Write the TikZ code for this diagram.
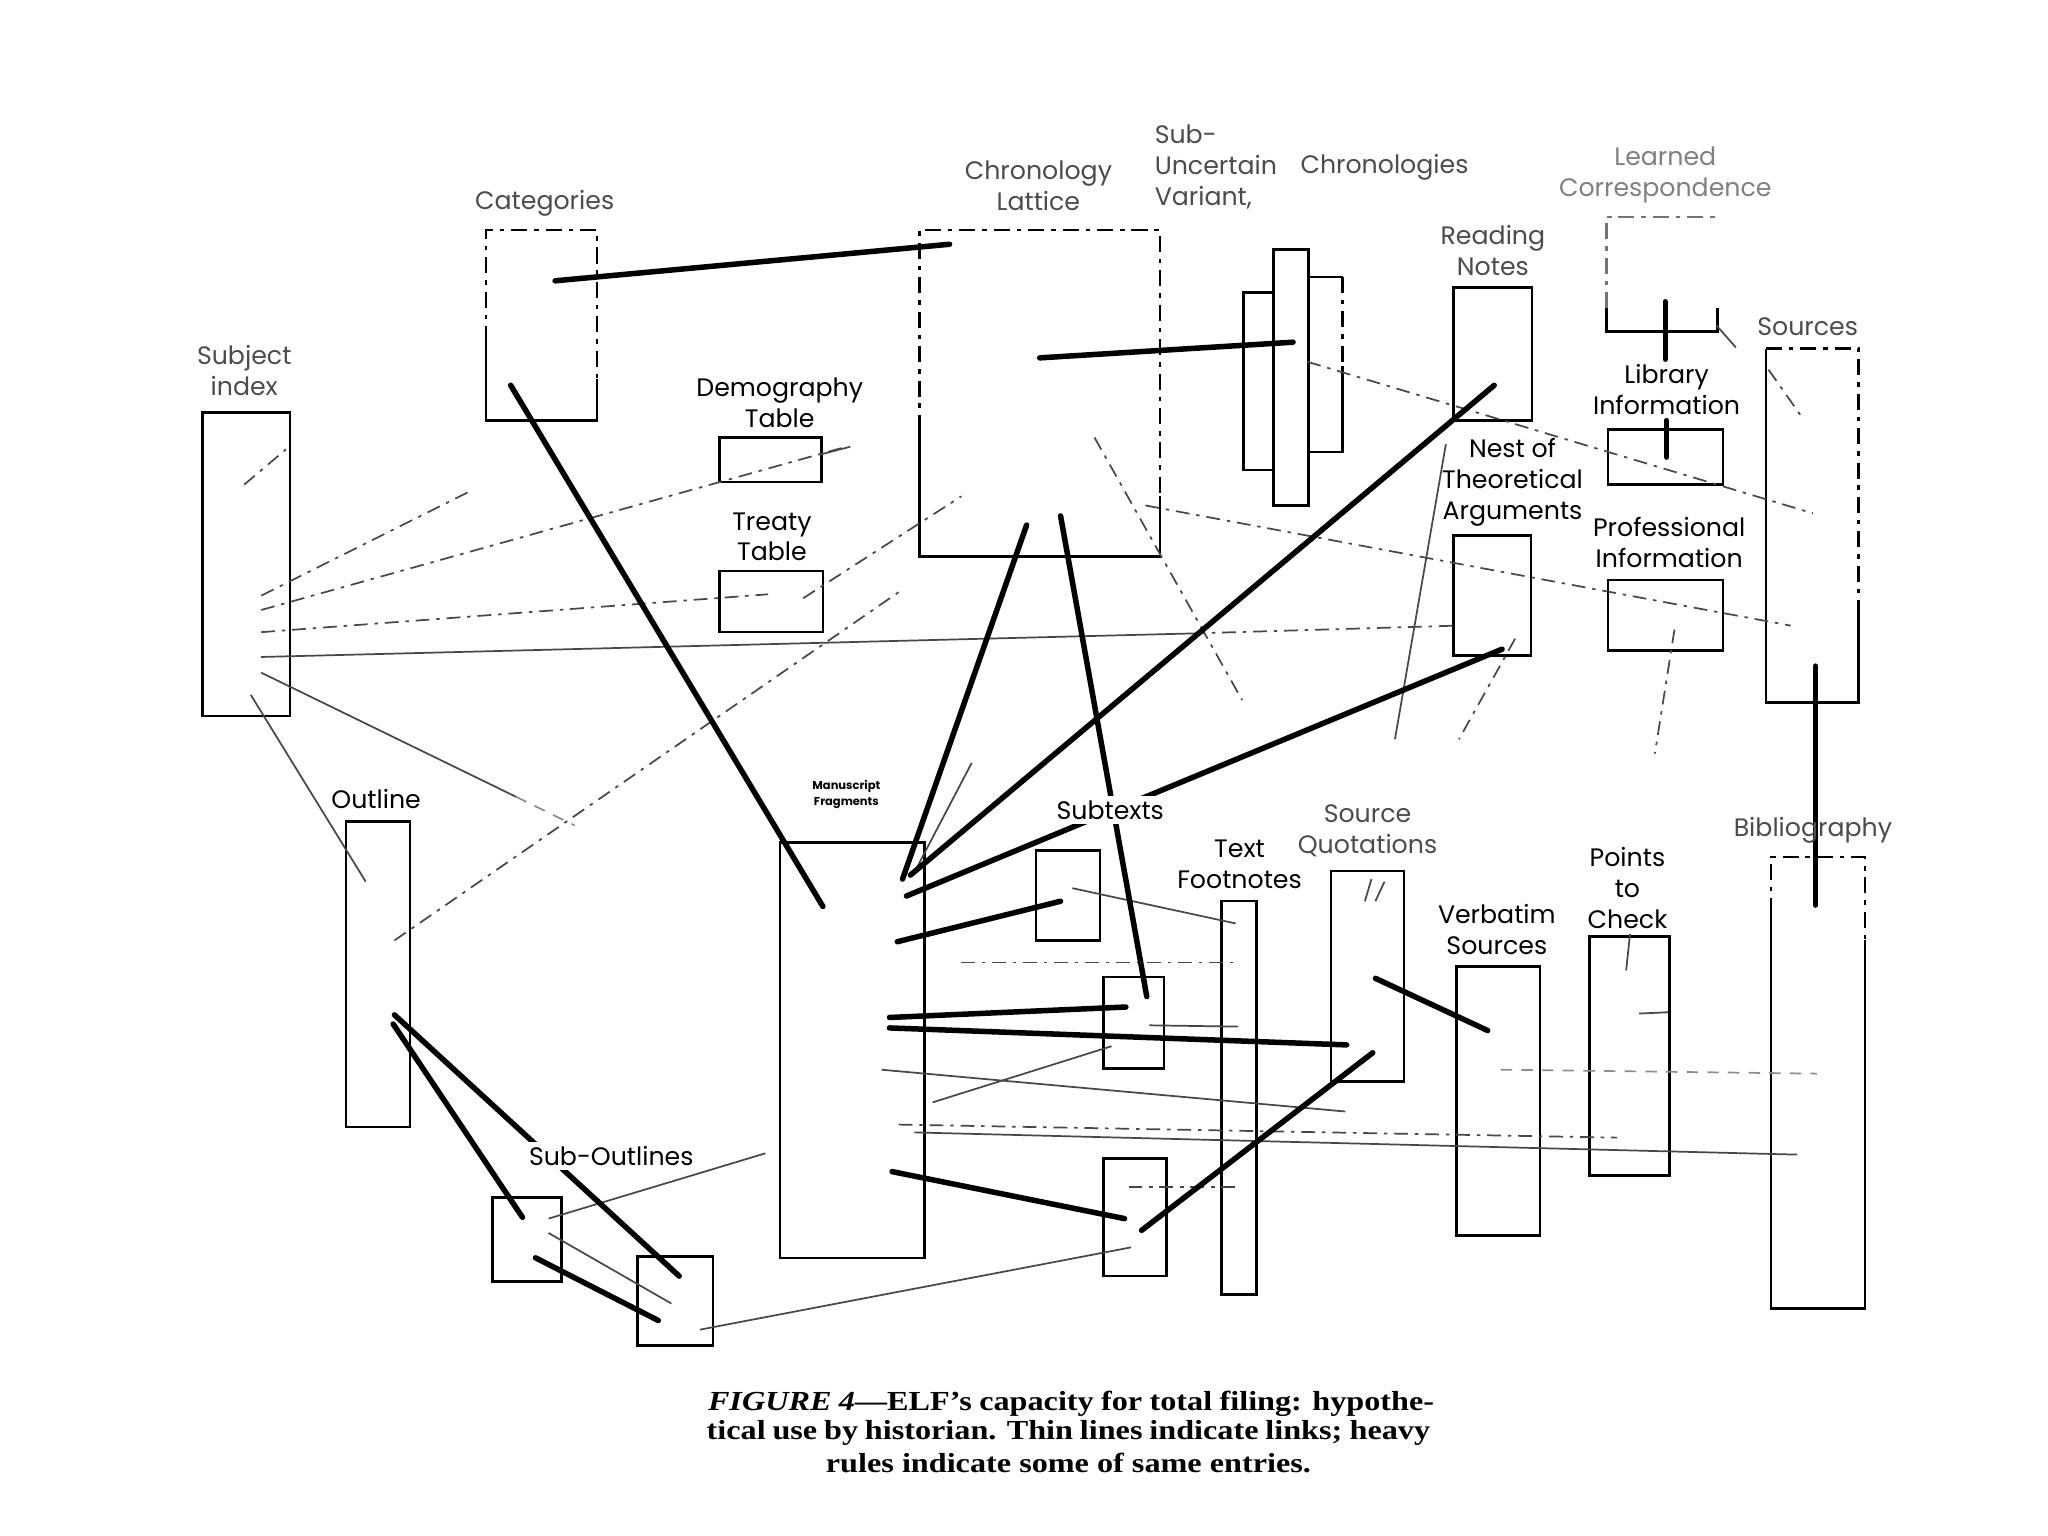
\documentclass[tikz,border=0pt]{standalone}
\usepackage{fontspec}
\setmainfont{Liberation Serif}
\newfontfamily\lbl{Poppins}
\newfontfamily\capfont[Ligatures=TeX, FakeStretch=1.17]{Liberation Serif}
\usetikzlibrary{calc}
\newcommand\mkbox[6]{\node[#1, minimum width={(#5-#3)*0.02cm}, minimum height={(#6-#4)*0.02cm}] (#2) at ({(#3+#5)/2},{(#4+#6)/2}) {};}
\newcommand\myseg[6]{\coordinate (#2a) at (#3,#4); \coordinate (#2b) at (#5,#6); \draw[#1] (#2a) -- (#2b);}
\tikzset{
 boxs/.style={draw, line width=1.1pt, inner sep=0pt, outer sep=0pt},
 ghost/.style={draw=none, inner sep=0pt, outer sep=0pt},
 heavy/.style={line width=2.4pt, line cap=round},
 lnk/.style={line width=0.75pt, black!72},
 dlnk/.style={lnk, dash pattern=on 6pt off 3pt on 1.5pt off 3pt},
 flnk/.style={lnk, black!45, dash pattern=on 5pt off 4pt},
 edged/.style={line width=1.1pt, dash pattern=on 7pt off 3pt on 2pt off 3pt},
 solidedge/.style={line width=1.1pt},
 lab/.style={font=\lbl\fontsize{11}{13.5}\selectfont, align=center, inner sep=1pt},
 labg/.style={lab, text=black!70},
 labw/.style={lab, fill=white, inner sep=2pt},
 capline/.style={inner sep=0pt, font=\capfont\bfseries\fontsize{12}{13}\selectfont},
}
\begin{document}
\begin{tikzpicture}[x=0.02cm, y=-0.02cm]
\useasboundingbox[fill=white] (0,0) rectangle (1568,1176);

% ---------- boxes ----------
\mkbox{boxs}{subj}{155}{316}{222}{548}
\mkbox{ghost}{cat}{372}{176}{457}{322}
\mkbox{boxs}{demo}{551}{335}{629}{369}
\mkbox{boxs}{treaty}{551}{437}{630}{484}
\mkbox{ghost}{chron}{704}{176}{888}{426}
\mkbox{boxs}{subA}{952}{224}{975}{360}
\mkbox{boxs}{subB}{975}{191}{1002}{387}
\mkbox{ghost}{subC}{1002}{212}{1028}{346}
\mkbox{boxs}{read}{1113}{220}{1173}{322}
\mkbox{ghost}{learned}{1230}{166}{1315}{254}
\mkbox{boxs}{lib}{1231}{329}{1319}{371}
\mkbox{boxs}{nest}{1113}{410}{1172}{502}
\mkbox{boxs}{prof}{1231}{444}{1319}{498}
\mkbox{ghost}{src}{1352}{267}{1423}{538}
\mkbox{boxs}{outline}{265}{629}{314}{863}
\mkbox{boxs}{ms}{597}{645}{708}{963}
\mkbox{boxs}{sa}{793}{651}{842}{720}
\mkbox{boxs}{sb}{845}{748}{891}{818}
\mkbox{boxs}{sc}{845}{887}{893}{977}
\mkbox{boxs}{tf}{935}{690}{962}{991}
\mkbox{boxs}{sq}{1019}{667}{1075}{828}
\mkbox{boxs}{verb}{1115}{740}{1179}{946}
\mkbox{boxs}{ptc}{1217}{717}{1278}{900}
\mkbox{ghost}{bib}{1356}{656}{1428}{1002}
\mkbox{boxs}{soa}{377}{917}{430}{981}
\mkbox{boxs}{sob}{488}{962}{546}{1030}

% partly dashed edges
% Categories
\draw[edged] (cat.south west) ++(0,-60) |- (cat.north east) -- ++(0,114);
\draw[solidedge] (cat.south west) ++(0,-60) |- (cat.south east) -- ++(0,-32);
% Chronology lattice
\draw[edged] (chron.south west) ++(0,-96) |- (chron.north east) -- ++(0,204);
\draw[solidedge] (chron.south west) ++(0,-96) |- (chron.south east) -- ++(0,-46);
% sub-variant right box
\draw[solidedge] (subC.south east) ++(0,-66) |- (subC.south west) |- (subC.north east);
\draw[edged] (subC.north east) -- ++(0,68);
% Learned correspondence
\draw[edged, black!55] (learned.south west) ++(0,-18) |- (learned.north east);
\draw[solidedge] (learned.south west) ++(0,-18) |- (learned.south east) -- ++(0,-18);
% Sources
\draw[edged] (src.north west) -- (src.north east) -- ++(0,198);
\draw[solidedge] (src.north west) |- (src.south east) -- ++(0,-73);
% Bibliography
\draw[edged] (bib.south west) ++(0,-302) |- (bib.north east) -- ++(0,64);
\draw[solidedge] (bib.south west) ++(0,-302) |- (bib.south east) -- ++(0,-282);

% ---------- thin links ----------
\myseg{dlnk}{t1}{200}{456}{360}{376}
\myseg{dlnk}{t2}{200}{467}{648}{342}
\myseg{dlnk}{t3}{200}{484}{588}{455}
\myseg{lnk}{t4}{200}{503}{912}{485}
\myseg{dlnk}{t4x}{912}{485}{1115}{479}
\myseg{lnk}{t5}{200}{515}{395}{610}
\myseg{flnk}{t5x}{395}{610}{440}{632}
\myseg{lnk}{t6}{192}{532}{280}{675}
\myseg{dlnk}{t7}{187}{371}{219}{344}
\myseg{lnk}{t8}{628}{348}{651}{342}
\myseg{dlnk}{t9}{615}{458}{736}{380}
\myseg{dlnk}{t10}{302}{720}{690}{452}
\myseg{dlnk}{t11}{838}{335}{951}{536}
\myseg{dlnk}{t12}{1001}{277}{1388}{393}
\myseg{dlnk}{t13}{877}{387}{1371}{479}
\myseg{lnk}{t14}{1107}{340}{1068}{566}
\myseg{dlnk}{t15}{1160}{489}{1117}{566}
\myseg{dlnk}{t16}{1282}{482}{1267}{577}
\myseg{dlnk}{t17}{1354}{283}{1380}{320}
\myseg{lnk}{t18}{744}{584}{700}{668}
\myseg{lnk}{t19}{821}{680}{946}{707}
\myseg{dlnk}{t20}{736}{737}{948}{737}
\myseg{lnk}{t21}{880}{785}{948}{786}
\myseg{lnk}{t22}{714}{844}{851}{801}
\myseg{lnk}{t23}{675}{819}{1030}{851}
\myseg{dlnk}{t24}{688}{861}{1238}{871}
\myseg{lnk}{t25}{700}{867}{1376}{884}
\myseg{flnk}{t26}{1149}{819}{1391}{822}
\myseg{lnk}{t27}{1245}{743}{1248}{715}
\myseg{lnk}{t28}{1255}{776}{1277}{775}
\myseg{lnk}{t29}{420}{933}{586}{883}
\myseg{lnk}{t30}{420}{944}{514}{998}
\myseg{lnk}{t31}{536}{1018}{866}{955}
\myseg{dlnk}{t32}{864}{909}{949}{909}
\myseg{lnk}{t33}{1314}{249}{1329}{266}
\myseg{lnk}{t34}{1045}{690}{1050}{673}
\myseg{lnk}{t35}{1053}{690}{1060}{675}

% ---------- heavy rules ----------
\myseg{heavy}{h1}{425}{215}{727}{187}
\myseg{heavy}{h2}{796}{274}{990}{262}
\myseg{heavy}{h3}{391}{295}{630}{694}
\myseg{heavy}{h4}{786}{402}{691}{673}
\myseg{heavy}{h5}{812}{395}{878}{763}
\myseg{heavy}{h6}{1144}{295}{697}{670}
\myseg{heavy}{h7}{1150}{497}{694}{686}
\myseg{heavy}{h8}{812}{690}{687}{721}
\myseg{heavy}{h9}{681}{779}{862}{771}
\myseg{heavy}{h10}{681}{787}{1031}{800}
\myseg{heavy}{h11}{683}{897}{861}{933}
\myseg{heavy}{h12}{874}{942}{1051}{806}
\myseg{heavy}{h13}{1053}{749}{1139}{789}
\myseg{heavy}{h14}{301}{784}{400}{932}
\myseg{heavy}{h15}{302}{777}{520}{977}
\myseg{heavy}{h16}{410}{963}{504}{1011}
\myseg{heavy}{h17}{1390}{510}{1390}{693}
\myseg{heavy}{h18}{1275}{231}{1275}{275}
\myseg{heavy}{h19}{1276}{322}{1276}{350}

% ---------- labels ----------
\node[labg] (lcat) at (417,156) {Categories};
\node[labg] (lsubj) at (187,284) {Subject\\index};
\node[lab] (ldemo) at (597,308) {Demography\\Table};
\node[lab] (ltreaty) at (591,411) {Treaty\\Table};
\node[labg] (lchron) at (795,142) {Chronology\\Lattice};
\node[labg, align=left, anchor=west] (lsub) at (882,128) {Sub-\\Uncertain\\Variant,};
\node[labg] (lchrons) at (1060,128) {Chronologies};
\node[lab, text=black!50] (llearn) at (1275,134) {Learned\\Correspondence};
\node[labg] (lread) at (1143,192) {Reading\\Notes};
\node[labg] (lsrc) at (1384,250) {Sources};
\node[lab] (llib) at (1276,298) {Library\\Information};
\node[lab] (lnest) at (1158,369) {Nest of\\Theoretical\\Arguments};
\node[lab] (lprof) at (1278,415) {Professional\\Information};
\node[lab] (lout) at (288,612) {Outline};
\node[font=\lbl\bfseries\fontsize{5}{7}\selectfont, align=center, inner sep=0pt] (lms) at (648,608) {Manuscript\\Fragments};
\node[labw] (lsubt) at (850,620) {Subtexts};
\node[lab] (ltf) at (949,662) {Text\\Footnotes};
\node[labg] (lsq) at (1047,636) {Source\\Quotations};
\node[lab] (lverb) at (1146,712) {Verbatim\\Sources};
\node[lab] (lptc) at (1246,680) {Points\\to\\Check};
\node[labg] (lbib) at (1388,636) {Bibliography};
\node[labw] (lso) at (468,885) {Sub-Outlines};

% ---------- caption ----------
\node[capline] (cap1) at (820,1075)
  {\makebox[11.12cm][s]{\textit{FIGURE 4}---ELF's capacity for total filing: hypothe-}};
\node[capline] (cap2) at (818,1097)
  {\makebox[11.08cm][s]{tical use by historian. Thin lines indicate links; heavy}};
\node[capline] (cap3) at (818,1120)
  {rules indicate some of same entries.};
\end{tikzpicture}
\end{document}
